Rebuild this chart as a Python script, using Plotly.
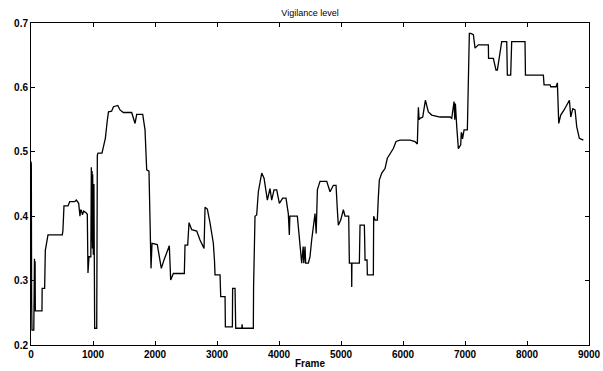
import plotly.graph_objects as go

title_text = "Vigilance level"
x_label = "Frame"

frames = [0, 5, 10, 16, 45, 48, 52, 56, 62, 66, 70, 177, 180, 220, 231, 274, 505, 515, 532, 597,
          624, 705, 731, 769, 790, 800, 812, 830, 850, 892, 908, 919, 935, 965, 973, 980, 985, 990,
          995, 1005, 1015, 1027, 1060, 1070, 1081, 1145, 1178, 1199, 1231, 1250, 1300, 1330, 1400,
          1436, 1489, 1624, 1678, 1705, 1802, 1839, 1866, 1903, 1936, 1952, 2037, 2065, 2102, 2145,
          2199, 2231, 2253, 2296, 2473, 2484, 2527, 2549, 2592, 2673, 2726, 2791, 2807, 2844, 2887,
          2941, 2960, 2968, 3049, 3060, 3130, 3135, 3248, 3252, 3291, 3302, 3400, 3405, 3410, 3586,
          3590, 3613, 3640, 3667, 3694, 3721, 3759, 3780, 3812, 3855, 3882, 3920, 3963, 4006, 4060,
          4113, 4150, 4167, 4175, 4296, 4339, 4366, 4390, 4400, 4420, 4430, 4473, 4500, 4527, 4581,
          4600, 4619, 4651, 4662, 4770, 4823, 4877, 4920, 4941, 4957, 4995, 5038, 5065, 5124, 5135,
          5170, 5173, 5176, 5296, 5307, 5377, 5388, 5420, 5425, 5522, 5527, 5549, 5586, 5600, 5618,
          5657, 5710, 5747, 5780, 5844, 5888, 5952, 6113, 6194, 6231, 6248, 6260, 6275, 6318, 6361,
          6409, 6463, 6598, 6759, 6786, 6823, 6835, 6845, 6867, 6893, 6931, 6940, 6947, 6960, 6985,
          7038, 7070, 7093, 7135, 7162, 7215, 7377, 7380, 7457, 7500, 7522, 7538, 7565, 7592, 7673,
          7683, 7737, 7753, 7968, 7975, 8264, 8275, 8372, 8383, 8469, 8490, 8512, 8544, 8598, 8684,
          8706, 8738, 8775, 8802, 8844, 8909]

vigilance = [0.485, 0.48, 0.27, 0.223, 0.223, 0.334, 0.26, 0.334, 0.27, 0.33, 0.253, 0.253, 0.288,
             0.288, 0.347, 0.371, 0.371, 0.378, 0.416, 0.416, 0.4225, 0.4225, 0.425, 0.42, 0.40,
             0.41, 0.409, 0.402, 0.408, 0.405, 0.403, 0.312, 0.337, 0.337, 0.476, 0.36, 0.47, 0.35,
             0.465, 0.34, 0.45, 0.226, 0.226, 0.495, 0.498, 0.498, 0.513, 0.521, 0.549, 0.562, 0.563,
             0.570, 0.572, 0.565, 0.561, 0.561, 0.544, 0.558, 0.558, 0.534, 0.472, 0.470, 0.319,
             0.358, 0.356, 0.337, 0.319, 0.332, 0.347, 0.354, 0.301, 0.311, 0.311, 0.355, 0.355,
             0.39, 0.379, 0.377, 0.363, 0.35, 0.414, 0.411, 0.39, 0.358, 0.33, 0.309, 0.309, 0.275,
             0.275, 0.228, 0.228, 0.288, 0.288, 0.226, 0.226, 0.232, 0.226, 0.226, 0.29, 0.40, 0.402,
             0.438, 0.451, 0.467, 0.459, 0.446, 0.425, 0.443, 0.425, 0.441, 0.441, 0.42, 0.428,
             0.428, 0.404, 0.371, 0.40, 0.40, 0.353, 0.327, 0.353, 0.327, 0.353, 0.327, 0.327, 0.337,
             0.363, 0.404, 0.373, 0.441, 0.451, 0.454, 0.454, 0.438, 0.448, 0.448, 0.41, 0.386,
             0.394, 0.41, 0.40, 0.40, 0.327, 0.327, 0.29, 0.327, 0.327, 0.386, 0.386, 0.332, 0.332,
             0.309, 0.309, 0.40, 0.394, 0.394, 0.425, 0.456, 0.467, 0.474, 0.49, 0.495, 0.505, 0.516,
             0.518, 0.518, 0.516, 0.512, 0.569, 0.55, 0.552, 0.554, 0.580, 0.562, 0.557, 0.554,
             0.554, 0.552, 0.578, 0.55, 0.575, 0.539, 0.505, 0.511, 0.53, 0.529, 0.52, 0.534, 0.534,
             0.684, 0.684, 0.682, 0.661, 0.666, 0.666, 0.645, 0.645, 0.627, 0.627, 0.637, 0.655,
             0.671, 0.671, 0.619, 0.619, 0.671, 0.671, 0.619, 0.619, 0.604, 0.604, 0.601, 0.601,
             0.607, 0.544, 0.557, 0.565, 0.580, 0.554, 0.567, 0.565, 0.539, 0.521, 0.518]

x_ticks = [0, 1000, 2000, 3000, 4000, 5000, 6000, 7000, 8000, 9000]
y_ticks = [0.2, 0.3, 0.4, 0.5, 0.6, 0.7]

fig = go.Figure()
fig.add_trace(go.Scatter(x=frames, y=vigilance, mode="lines",
                         line=dict(color="black", width=1.3), showlegend=False))

axis_common = dict(showline=True, linecolor="black", linewidth=1, mirror="ticks",
                   ticks="inside", ticklen=4, tickcolor="black", showgrid=False, zeroline=False,
                   automargin=False, ticklabeloverflow="allow",
                   tickfont=dict(family="Liberation Sans", size=10, color="black", weight="bold"))

fig.update_xaxes(range=[0, 9000], tickvals=x_ticks, ticktext=[str(v) for v in x_ticks],
                 title=dict(text=x_label, font=dict(family="Liberation Sans", size=10,
                                                    color="black", weight="bold"), standoff=0),
                 **axis_common)
fig.update_yaxes(range=[0.2, 0.7], tickvals=y_ticks, ticktext=[f"{v:.1f}" for v in y_ticks],
                 **axis_common)

fig.update_layout(
    width=603, height=371,
    margin=dict(l=31, r=14, t=23, b=26),
    paper_bgcolor="white", plot_bgcolor="white",
    title=dict(text=title_text, x=0.5, xref="paper", xanchor="center", y=0.966,
               yanchor="middle", yref="container",
               font=dict(family="Liberation Sans", size=9, color="black")),
)

fig.write_html("out.html", config={"displayModeBar": False},
               post_script="document.body.style.margin='0';document.body.style.overflow='hidden';")
